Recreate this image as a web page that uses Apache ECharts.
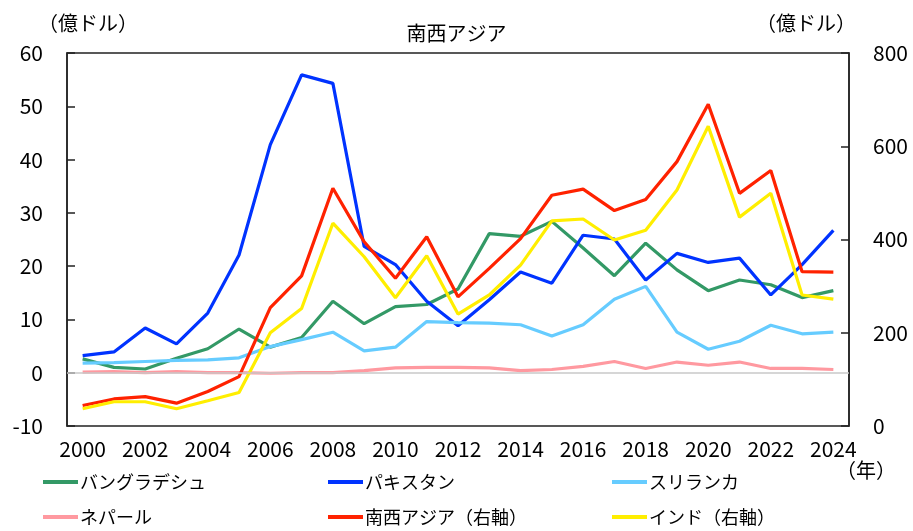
<!DOCTYPE html>
<html>
<head>
<meta charset="utf-8">
<script src="https://cdn.jsdelivr.net/npm/echarts@6/dist/echarts.min.js"></script>
<style>
  html, body { margin: 0; padding: 0; background: #fff; }
  #chart { width: 913px; height: 531px; }
</style>
</head>
<body>
<div id="chart"></div>
<script>
const years = ["2000","2001","2002","2003","2004","2005","2006","2007","2008","2009","2010","2011","2012",
  "2013","2014","2015","2016","2017","2018","2019","2020","2021","2022","2023","2024"];

// left axis (億ドル)
const bangladesh = [2.6, 1.0, 0.7, 2.7, 4.5, 8.2, 4.8, 6.6, 13.4, 9.2, 12.4, 12.8, 15.7,
  26.1, 25.6, 28.4, 23.4, 18.2, 24.3, 19.3, 15.4, 17.4, 16.5, 14.1, 15.4];
const pakistan = [3.2, 3.9, 8.4, 5.4, 11.2, 22.1, 42.8, 55.9, 54.3, 23.7, 20.3, 13.4, 8.8,
  13.7, 18.9, 16.8, 25.8, 25.1, 17.4, 22.4, 20.7, 21.5, 14.6, 20.3, 26.7];
const sriLanka = [1.8, 1.9, 2.1, 2.3, 2.4, 2.8, 4.9, 6.2, 7.6, 4.1, 4.8, 9.6, 9.4,
  9.3, 9.0, 6.9, 9.0, 13.8, 16.2, 7.6, 4.4, 5.9, 8.9, 7.3, 7.6];
const nepal = [0.1, 0.2, 0.0, 0.2, 0.0, 0.0, -0.1, 0.0, 0.0, 0.4, 0.9, 1.0, 1.0,
  0.9, 0.4, 0.6, 1.2, 2.1, 0.8, 2.0, 1.4, 2.0, 0.8, 0.8, 0.6];
// right axis (億ドル)
const southWestAsia = [44, 58, 63, 49, 74, 106, 254, 322, 510, 395, 317, 406, 277,
  338, 402, 495, 508, 462, 486, 567, 690, 499, 548, 331, 330];
const india = [37, 52, 52, 37, 54, 72, 200, 252, 435, 363, 275, 365, 240,
  281, 345, 440, 444, 399, 420, 506, 643, 448, 499, 281, 272];

const leftTicks = { min: -10, max: 60, interval: 10 };
const rightTicks = { min: 0, max: 800, interval: 200 };

const FONT = "'Noto Sans CJK JP', 'Noto Sans', sans-serif";
const chart = echarts.init(document.getElementById("chart"), null, { renderer: "canvas" });

function line(name, data, color, yAxisIndex, extra) {
  return Object.assign({
    name: name,
    type: "line",
    data: data,
    yAxisIndex: yAxisIndex,
    symbol: "none",
    lineStyle: { color: color, width: 3.2 },
    itemStyle: { color: color },
    animation: false
  }, extra || {});
}

function legendAt(name, left, top) {
  return {
    data: [name],
    left: left,
    top: top,
    icon: "rect",
    itemWidth: 35,
    itemHeight: 4,
    itemGap: 0,
    padding: 0,
    textStyle: { fontSize: 18, color: "#000", fontFamily: FONT, padding: [0, 0, 0, -3] }
  };
}

const option = {
  animation: false,
  textStyle: { fontFamily: FONT },
  title: {
    text: "南西アジア",
    left: "center",
    top: 18,
    textStyle: { fontSize: 20, fontWeight: "normal", color: "#000", fontFamily: FONT }
  },
  graphic: [
    { type: "text", left: 38, top: 13, style: { text: "（億ドル）", font: "20px " + FONT, fill: "#000" } },
    { type: "text", left: 756, top: 13, style: { text: "（億ドル）", font: "20px " + FONT, fill: "#000" } },
    { type: "text", left: 836, top: 460, style: { text: "（年）", font: "20px " + FONT, fill: "#000" } }
  ],
  legend: [
    legendAt("バングラデシュ", 43, 473),
    legendAt("パキスタン", 328, 473),
    legendAt("スリランカ", 612, 473),
    legendAt("ネパール", 43, 508),
    legendAt("南西アジア（右軸）", 328, 508),
    legendAt("インド（右軸）", 612, 508)
  ],
  grid: {
    left: 67, right: 64, top: 53, bottom: 105,
    show: true, borderColor: "#222", borderWidth: 1.5, backgroundColor: "transparent"
  },
  xAxis: {
    type: "category",
    data: years,
    boundaryGap: true,
    axisLine: { show: false },
    axisTick: { show: false },
    axisLabel: {
      interval: 1,
      margin: 13,
      fontSize: 21,
      color: "#000",
      fontFamily: FONT
    }
  },
  yAxis: [
    {
      type: "value",
      min: leftTicks.min, max: leftTicks.max, interval: leftTicks.interval,
      axisLine: { show: true, lineStyle: { color: "#222", width: 1.5 } },
      axisTick: { show: true, inside: true, length: 8, lineStyle: { color: "#222", width: 1.5 } },
      axisLabel: { margin: 24, fontSize: 21, color: "#000", fontFamily: FONT },
      splitLine: { show: false }
    },
    {
      type: "value",
      min: rightTicks.min, max: rightTicks.max, interval: rightTicks.interval,
      axisLine: { show: true, lineStyle: { color: "#222", width: 1.5 } },
      axisTick: { show: true, inside: true, length: 8, lineStyle: { color: "#222", width: 1.5 } },
      axisLabel: { margin: 24, fontSize: 21, color: "#000", fontFamily: FONT },
      splitLine: { show: false }
    }
  ],
  series: [
    line("バングラデシュ", bangladesh, "#339966", 0, {
      markLine: {
        silent: true,
        symbol: "none",
        label: { show: false },
        lineStyle: { color: "#c8c8c8", width: 1.5, type: "solid" },
        data: [{ yAxis: 0 }]
      }
    }),
    line("パキスタン", pakistan, "#0033ff", 0),
    line("スリランカ", sriLanka, "#66ccff", 0),
    line("ネパール", nepal, "#ff99a0", 0),
    line("南西アジア（右軸）", southWestAsia, "#ff2200", 1),
    line("インド（右軸）", india, "#ffee00", 1)
  ]
};

chart.setOption(option);
</script>
</body>
</html>
